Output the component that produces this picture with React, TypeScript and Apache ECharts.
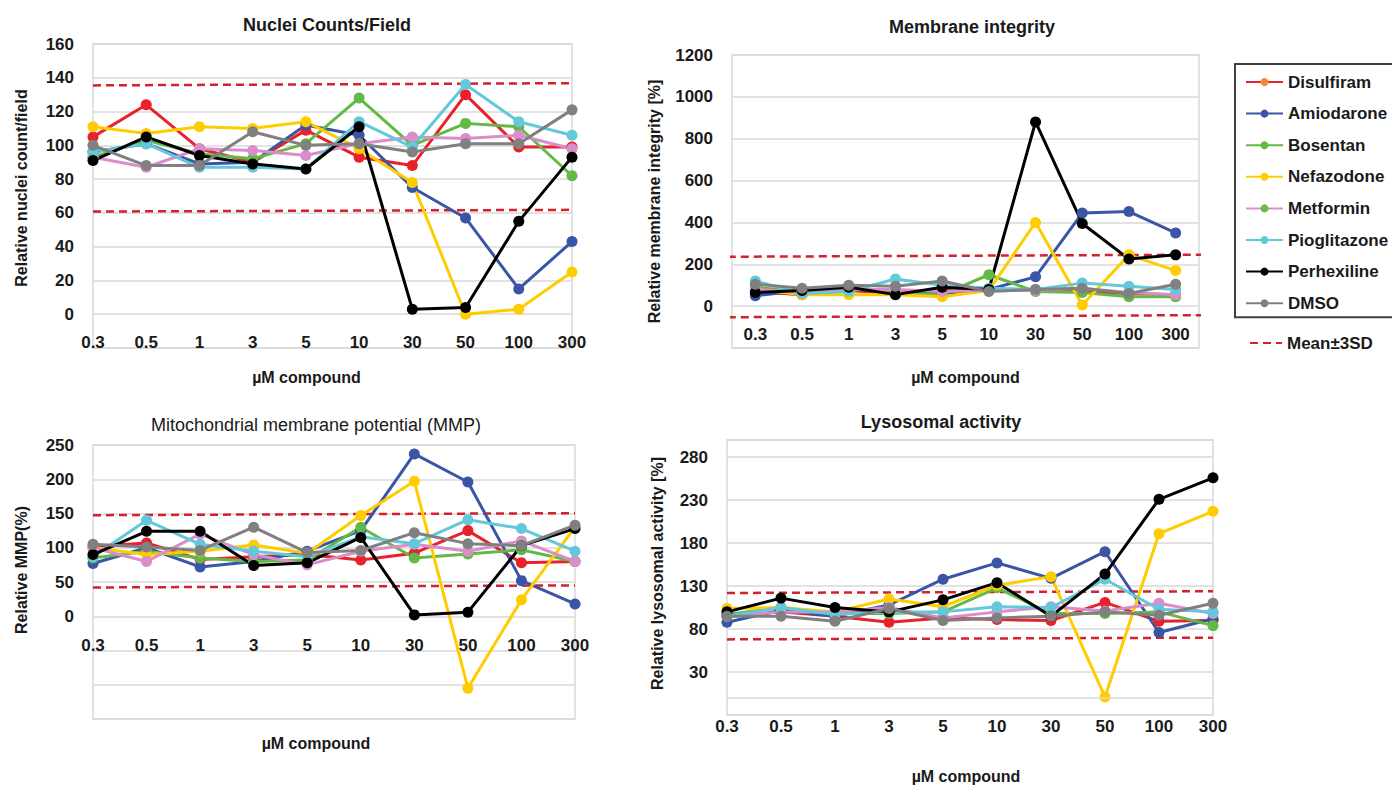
import React, { useEffect, useRef } from 'react';
import * as echarts from 'echarts';

// ---------- data ----------
const categories = ['0.3', '0.5', '1', '3', '5', '10', '30', '50', '100', '300'];
const compounds = ['Disulfiram', 'Amiodarone', 'Bosentan', 'Nefazodone', 'Metformin', 'Pioglitazone', 'Perhexiline', 'DMSO'];

// Nuclei counts/field (rows follow `compounds`)
const nucleiValues = [
  [105, 124, 98, 90, 109, 93, 88, 130, 99, 99],
  [96, 101, 89, 90, 112, 106, 75, 57, 15, 43],
  [93, 103, 95, 92, 101, 128, 100, 113, 111, 82],
  [111, 107, 111, 110, 114, 98, 78, 0, 3, 25],
  [93, 87, 98, 97, 94, 101, 105, 104, 106, 98],
  [96, 101, 87, 87, 86, 114, 99, 136, 114, 106],
  [91, 105, 94, 89, 86, 111, 3, 4, 55, 93],
  [100, 88, 88, 108, 100, 101, 96, 101, 101, 121],
];
const nucleiUpper = [135.5, 136.8];
const nucleiLower = [60.8, 61.8];

// Membrane integrity
const membraneValues = [
  [70, 55, 75, 60, 80, 80, 75, 70, 60, 55],
  [50, 75, 85, 60, 60, 80, 140, 445, 452, 350],
  [90, 70, 90, 60, 55, 150, 70, 65, 45, 45],
  [80, 55, 55, 55, 45, 75, 400, 5, 245, 170],
  [80, 65, 80, 80, 70, 75, 75, 85, 65, 55],
  [120, 60, 70, 130, 100, 85, 80, 110, 95, 80],
  [65, 75, 90, 55, 90, 80, 880, 395, 225, 245],
  [105, 85, 100, 95, 120, 70, 80, 85, 60, 105],
];
const membraneUpper = [236, 246];
const membraneLower = [-53, -43];

// Mitochondrial membrane potential
const mmpValues = [
  [102, 107, 83, 87, 90, 82, 92, 125, 78, 80],
  [77, 100, 72, 80, 95, 125, 237, 196, 52, 18],
  [85, 95, 85, 80, 82, 130, 85, 91, 97, 80],
  [100, 90, 95, 104, 92, 147, 197, -105, 24, 130],
  [100, 80, 120, 90, 75, 95, 105, 95, 110, 80],
  [87, 140, 105, 95, 87, 116, 106, 141, 128, 95],
  [90, 124, 124, 74, 78, 115, 2, 6, 103, 128],
  [105, 101, 96, 130, 93, 96, 122, 106, 103, 133],
];
const mmpUpper = [147.5, 150.5];
const mmpLower = [42, 45];

// Lysosomal activity
const lysoValues = [
  [95, 100, 95, 88, 93, 91, 90, 111, 89, 90],
  [88, 102, 95, 108, 138, 157, 139, 170, 76, 92],
  [97, 105, 98, 98, 100, 128, 98, 98, 100, 84],
  [104, 105, 100, 115, 106, 131, 141, 1, 191, 217],
  [95, 100, 100, 105, 93, 100, 106, 101, 110, 98],
  [95, 105, 97, 100, 100, 106, 105, 138, 103, 100],
  [100, 116, 105, 100, 114, 134, 95, 144, 231, 256],
  [95, 95, 89, 104, 90, 93, 95, 100, 96, 110],
];
const lysoUpper = [122, 124];
const lysoLower = [68, 70];

// ---------- styles ----------
const compoundColors = ['#E8212A', '#3A55A5', '#63B946', '#FFCC00', '#D98EC9', '#62C8DA', '#000000', '#808080'];
const legendMarkerColors = ['#F08A3C', '#3A55A5', '#63B946', '#FFCC00', '#6CBB45', '#62C8DA', '#000000', '#808080'];
const FONT = '"Liberation Sans", Arial, sans-serif';
const TEXT = '#1a1a1a';
const GRIDLINE = '#d9d9d9';
const BOUND = '#D3212D';

type Panel = {
  title: string; titleX: number; titleY: number; titleWeight: string;
  grid: { left: number; top: number; width: number; height: number };
  values: number[][]; upper: number[]; lower: number[];
  min: number; max: number; interval: number; labelMax: number;
  yName: string; yNameGap: number; yNamePad: number[];
  boundaryGap: boolean; labelMargin: number;
  xNameGap: number; xNamePad: number[];
  span: number[]; zeroLine: boolean;
};

const panels: Panel[] = [
  {
    title: 'Nuclei Counts/Field', titleX: 327, titleY: 25, titleWeight: 'bold',
    grid: { left: 93, top: 44, width: 479, height: 304 },
    values: nucleiValues, upper: nucleiUpper, lower: nucleiLower,
    min: -20, max: 160, interval: 20, labelMax: 160,
    yName: 'Relative nuclei count/field', yNameGap: 64, yNamePad: [0, 0, 0, 16],
    boundaryGap: false, labelMargin: -14, xNameGap: 21, xNamePad: [0, 52, 0, 0],
    span: [0, 1], zeroLine: false,
  },
  {
    title: 'Membrane integrity', titleX: 972, titleY: 27, titleWeight: 'bold',
    grid: { left: 732, top: 55, width: 467, height: 293 },
    values: membraneValues, upper: membraneUpper, lower: membraneLower,
    min: -200, max: 1200, interval: 200, labelMax: 1200,
    yName: 'Relative membrane integrity [%]', yNameGap: 70, yNamePad: [0, 0, 0, 0],
    boundaryGap: true, labelMargin: -22, xNameGap: 21, xNamePad: [0, 0, 0, 0],
    span: [-0.009, 1.024], zeroLine: false,
  },
  {
    title: 'Mitochondrial membrane potential (MMP)', titleX: 316, titleY: 425, titleWeight: 'normal',
    grid: { left: 93, top: 445, width: 482, height: 274 },
    values: mmpValues, upper: mmpUpper, lower: mmpLower,
    min: -150, max: 250, interval: 50, labelMax: 250,
    yName: 'Relative MMP(%)', yNameGap: 64, yNamePad: [0, 0, 0, 24],
    boundaryGap: false, labelMargin: -82, xNameGap: 16, xNamePad: [0, 36, 0, 0],
    span: [0, 1], zeroLine: false,
  },
  {
    title: 'Lysosomal activity', titleX: 941, titleY: 422, titleWeight: 'bold',
    grid: { left: 727, top: 440, width: 486, height: 276 },
    values: lysoValues, upper: lysoUpper, lower: lysoLower,
    min: -20, max: 300, interval: 50, labelMax: 280,
    yName: 'Relative lysosomal activity [%]', yNameGap: 62, yNamePad: [0, 0, 0, 8],
    boundaryGap: false, labelMargin: 3, xNameGap: 53, xNamePad: [0, 8, 0, 0],
    span: [0, 1], zeroLine: true,
  },
];

function buildOption() {
  const grid: any[] = [];
  const xAxis: any[] = [];
  const yAxis: any[] = [];
  const series: any[] = [];
  const graphic: any[] = [];

  panels.forEach((p, pi) => {
    grid.push({
      ...p.grid,
      show: true,
      borderColor: GRIDLINE,
      borderWidth: 1.5,
      backgroundColor: 'transparent',
    });
    xAxis.push({
      type: 'category',
      gridIndex: pi,
      data: categories,
      boundaryGap: p.boundaryGap,
      axisLine: { show: false },
      axisTick: { show: false },
      splitLine: { show: false },
      axisLabel: {
        margin: p.labelMargin,
        fontSize: 17,
        fontWeight: 'bold',
        fontFamily: FONT,
        color: TEXT,
        interval: 0,
      },
      name: 'µM compound',
      nameLocation: 'middle',
      nameGap: p.xNameGap,
      nameTextStyle: {
        fontSize: 16,
        fontWeight: 'bold',
        fontFamily: FONT,
        color: TEXT,
        padding: p.xNamePad,
        verticalAlign: 'top',
      },
    });
    yAxis.push({
      type: 'value',
      gridIndex: pi,
      min: p.min,
      max: p.max,
      interval: p.interval,
      axisLine: { show: false },
      axisTick: { show: false },
      splitLine: { show: true, lineStyle: { color: GRIDLINE, width: 1.5 } },
      axisLabel: {
        margin: 19,
        fontSize: 17,
        fontWeight: 'bold',
        fontFamily: FONT,
        color: TEXT,
        formatter: (v: number) => (v < 0 || v > p.labelMax ? '' : String(v)),
      },
      name: p.yName,
      nameLocation: 'middle',
      nameGap: p.yNameGap,
      nameTextStyle: {
        fontSize: 16,
        fontWeight: 'bold',
        fontFamily: FONT,
        color: TEXT,
        padding: p.yNamePad,
      },
    });

    graphic.push({
      type: 'text',
      x: p.titleX,
      y: p.titleY,
      silent: true,
      style: {
        text: p.title,
        align: 'center',
        verticalAlign: 'middle',
        fontSize: 18,
        fontWeight: p.titleWeight,
        fontFamily: FONT,
        fill: TEXT,
      },
    });

    compounds.forEach((name, ci) => {
      series.push({
        type: 'line',
        name,
        xAxisIndex: pi,
        yAxisIndex: pi,
        data: p.values[ci],
        symbol: 'circle',
        symbolSize: 11,
        lineStyle: { width: 3, color: compoundColors[ci] },
        itemStyle: { color: compoundColors[ci] },
        z: 3,
      });
    });
  });

  // hidden value x axes for the Mean±3SD lines (one per panel)
  panels.forEach((p, pi) => {
    xAxis.push({ type: 'value', gridIndex: pi, min: 0, max: 1, show: false });
    const xi = panels.length + pi;
    [p.upper, p.lower].forEach((b, bi) => {
      series.push({
        type: 'line',
        name: 'Mean±3SD',
        xAxisIndex: xi,
        yAxisIndex: pi,
        data: [[p.span[0], b[0]], [p.span[1], b[1]]],
        symbol: 'none',
        clip: false,
        silent: true,
        lineStyle: { color: BOUND, width: 2.5, type: [8, 5] },
        itemStyle: { color: BOUND },
        z: 2,
        markLine: p.zeroLine && bi === 0
          ? {
              silent: true,
              symbol: 'none',
              label: { show: false },
              lineStyle: { color: GRIDLINE, width: 1.5, type: 'solid' },
              data: [{ yAxis: 0 }],
            }
          : undefined,
      });
    });
  });

  const legendText = { fontSize: 17, fontWeight: 'bold', fontFamily: FONT, color: TEXT, lineHeight: 18 };

  return {
    animation: false,
    backgroundColor: '#ffffff',
    textStyle: { fontFamily: FONT },
    grid,
    xAxis,
    yAxis,
    series,
    graphic,
    legend: [
      {
        orient: 'vertical',
        left: 1235,
        top: 64,
        padding: [9, 80, 5, 10],
        itemGap: 13.6,
        itemWidth: 37,
        itemHeight: 10,
        borderColor: '#404040',
        borderWidth: 2,
        selectedMode: false,
        data: compounds.map((name, i) => ({ name, itemStyle: { color: legendMarkerColors[i] } })),
        textStyle: legendText,
      },
      {
        orient: 'vertical',
        left: 1244,
        top: 334,
        padding: [0, 0, 0, 5],
        itemWidth: 32,
        itemHeight: 10,
        selectedMode: false,
        data: [{ name: 'Mean±3SD', itemStyle: { opacity: 0 } }],
        textStyle: legendText,
      },
    ],
  };
}

export default function App() {
  const ref = useRef<HTMLDivElement>(null);
  useEffect(() => {
    document.body.style.margin = '0';
    if (!ref.current) return;
    const chart = echarts.init(ref.current, null, { renderer: 'svg' });
    chart.setOption(buildOption() as any);
    return () => chart.dispose();
  }, []);
  return <div ref={ref} style={{ width: 1392, height: 785 }} />;
}
